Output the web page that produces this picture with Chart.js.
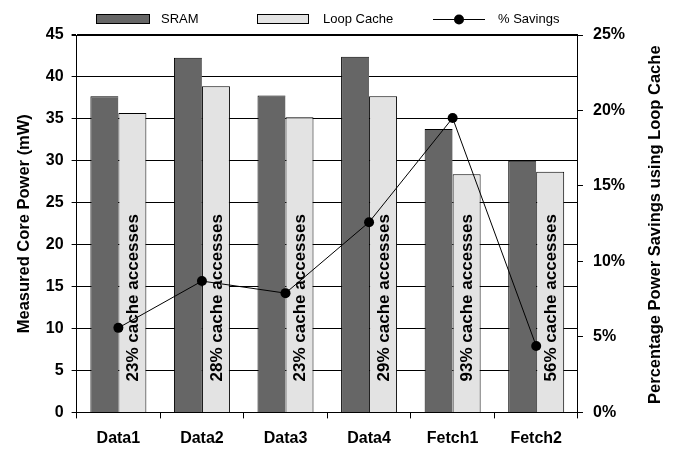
<!DOCTYPE html>
<html><head><meta charset="utf-8">
<script src="https://cdn.jsdelivr.net/npm/chart.js@4/dist/chart.umd.min.js"></script>
<style>html,body{margin:0;padding:0;background:#fff}#wrap{width:678px;height:449px}</style>
</head><body><div id="wrap"><canvas id="c" width="678" height="449"></canvas></div>
<script>
const categories = ['Data1', 'Data2', 'Data3', 'Data4', 'Fetch1', 'Fetch2'];
const sramPower = [37.7, 42.3, 37.8, 42.4, 33.8, 30.0];
const loopCachePower = [35.7, 38.9, 35.2, 37.7, 28.4, 28.7];
const savingsPct = [5.6, 8.7, 7.9, 12.6, 19.5, 4.4];
const accessLabels = ['23% cache accesses', '28% cache accesses', '23% cache accesses', '29% cache accesses', '93% cache accesses', '56% cache accesses'];
const seriesNames = ['SRAM', 'Loop Cache', '% Savings'];
const leftTitle = 'Measured Core Power (mW)';
const rightTitle = 'Percentage Power Savings using Loop Cache';

const FAM = '"Liberation Sans", Arial, Helvetica, sans-serif';
const SRAM_COLOR = '#666666';
const LOOP_COLOR = '#e3e3e3';

const extras = {
  id: 'extras',
  beforeDatasetDraw(chart, args) {
    if (args.index !== 2) return;
    const ctx = chart.ctx;
    const meta = chart.getDatasetMeta(1);
    const yb = chart.chartArea.bottom;
    ctx.save();
    ctx.fillStyle = '#000';
    ctx.font = 'bold 17px ' + FAM;
    ctx.textAlign = 'left';
    ctx.textBaseline = 'middle';
    meta.data.forEach((bar, i) => {
      ctx.save();
      ctx.translate(bar.x + 1, yb - 31);
      ctx.rotate(-Math.PI / 2);
      ctx.fillText(accessLabels[i], 0, 0);
      ctx.restore();
    });
    ctx.restore();
  },
  afterDraw(chart) {
    const ctx = chart.ctx;
    ctx.save();
    // legend
    ctx.font = '13px ' + FAM;
    ctx.textBaseline = 'middle';
    ctx.textAlign = 'left';
    ctx.lineWidth = 1;
    ctx.strokeStyle = '#000';
    ctx.fillStyle = SRAM_COLOR;
    ctx.fillRect(96, 14, 54, 10);
    ctx.strokeRect(96.5, 14.5, 53, 9);
    ctx.fillStyle = '#000';
    ctx.fillText(seriesNames[0], 161, 19.5);
    ctx.fillStyle = LOOP_COLOR;
    ctx.fillRect(257, 14, 52, 10);
    ctx.strokeRect(257.5, 14.5, 51, 9);
    ctx.fillStyle = '#000';
    ctx.fillText(seriesNames[1], 323, 19.5);
    ctx.beginPath();
    ctx.moveTo(433, 19.5); ctx.lineTo(485, 19.5); ctx.stroke();
    ctx.beginPath(); ctx.arc(459, 19.5, 5, 0, Math.PI * 2); ctx.fill();
    ctx.fillText(seriesNames[2], 498, 19.5);
    // right axis title
    ctx.font = 'bold 16.5px ' + FAM;
    ctx.textAlign = 'center';
    ctx.translate(655, (chart.chartArea.top + chart.chartArea.bottom) / 2 + 1);
    ctx.rotate(-Math.PI / 2);
    ctx.fillText(rightTitle, 0, 0);
    ctx.restore();
  }
};

const tickFont = { family: FAM, size: 16, weight: 'bold' };

new Chart(document.getElementById('c'), {
  type: 'bar',
  data: {
    labels: categories,
    datasets: [
      { label: seriesNames[0], data: sramPower, backgroundColor: SRAM_COLOR, borderColor: '#000',
        borderWidth: { left: 1, top: 1, right: 0, bottom: 0 }, borderSkipped: false,
        yAxisID: 'y', order: 2, categoryPercentage: 0.67, barPercentage: 1 },
      { label: seriesNames[1], data: loopCachePower, backgroundColor: LOOP_COLOR, borderColor: '#000',
        borderWidth: { left: 1, top: 1, right: 1, bottom: 0 }, borderSkipped: false,
        yAxisID: 'y', order: 2, categoryPercentage: 0.67, barPercentage: 1 },
      { type: 'line', label: seriesNames[2], data: savingsPct, borderColor: '#000', borderWidth: 1,
        backgroundColor: '#000', pointRadius: 5, pointBackgroundColor: '#000', pointBorderColor: '#000',
        pointBorderWidth: 0, tension: 0, fill: false, yAxisID: 'y2', order: 1 }
    ]
  },
  options: {
    responsive: false,
    animation: false,
    devicePixelRatio: 1,
    layout: { padding: { left: 10, right: 43, top: 35, bottom: -10 } },
    plugins: { legend: { display: false }, tooltip: { enabled: false } },
    scales: {
      x: {
        offset: true,
        grid: { offset: true, drawOnChartArea: false, color: '#000', tickLength: 6, lineWidth: 1 },
        border: { color: '#000', width: 1 },
        ticks: { color: '#000', font: tickFont, padding: 10.7, maxRotation: 0 }
      },
      y: {
        position: 'left', min: 0, max: 45,
        ticks: { stepSize: 5, color: '#000', font: tickFont, padding: 8 },
        grid: { color: '#000', tickLength: 5, lineWidth: (c) => (c.tick && c.tick.value === 45 ? 2 : 1) },
        border: { color: '#000', width: 1 },
        title: { display: true, text: leftTitle, color: '#000', font: { family: FAM, size: 16.5, weight: 'bold' }, padding: { top: 5, bottom: 3 } }
      },
      y2: {
        position: 'right', min: 0, max: 25,
        ticks: { stepSize: 5, color: '#000', font: tickFont, padding: 10, callback: (v) => v + '%' },
        grid: { drawOnChartArea: false, color: '#000', tickLength: 5 },
        border: { color: '#000', width: 1 }
      }
    }
  },
  plugins: [extras]
});
</script>
</body></html>
